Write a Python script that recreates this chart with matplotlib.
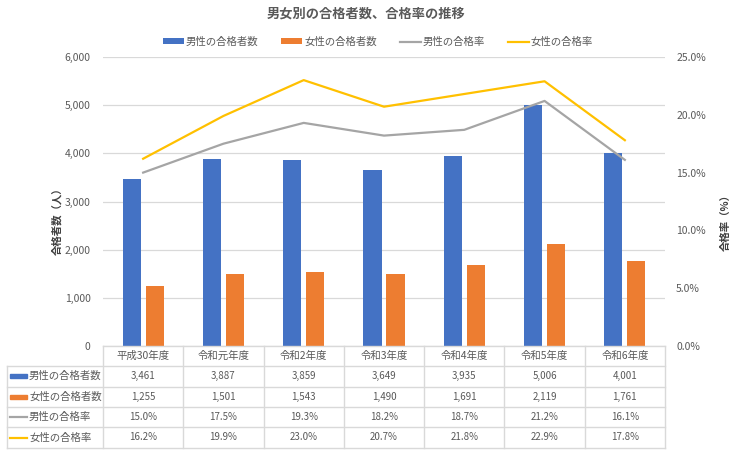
import numpy as np
import matplotlib
matplotlib.use("Agg")
import matplotlib.pyplot as plt
import matplotlib.transforms as mtransforms
from matplotlib.ticker import FuncFormatter, MultipleLocator

plt.rcParams['font.family'] = ['Noto Sans CJK JP', 'DejaVu Sans']

# data
years = ['平成30年度', '令和元年度', '令和2年度', '令和3年度', '令和4年度', '令和5年度', '令和6年度']
male_pass = [3461, 3887, 3859, 3649, 3935, 5006, 4001]
female_pass = [1255, 1501, 1543, 1490, 1691, 2119, 1761]
male_rate = [15.0, 17.5, 19.3, 18.2, 18.7, 21.2, 16.1]
female_rate = [16.2, 19.9, 23.0, 20.7, 21.8, 22.9, 17.8]

series_names = ['男性の合格者数', '女性の合格者数', '男性の合格率', '女性の合格率']
c_blue = '#4472C4'
c_orange = '#ED7D31'
c_gray = '#A5A5A5'
c_yellow = '#FFC000'
txt = '#595959'
grid_c = '#D9D9D9'

W, H = 733, 459
fig = plt.figure(figsize=(W / 100, H / 100), dpi=100)
# plot area in pixels
L, R, T, B = 103, 665, 57, 346
ax = fig.add_axes([L / W, 1 - B / H, (R - L) / W, (B - T) / H])

x = np.arange(len(years))
bw = 0.225
ax.bar(x - 0.143, male_pass, width=bw, color=c_blue, label=series_names[0], zorder=2)
ax.bar(x + 0.143, female_pass, width=bw, color=c_orange, label=series_names[1], zorder=2)
ax.set_xlim(-0.5, len(years) - 0.5)
ax.set_ylim(0, 6000)
ax.yaxis.set_major_locator(MultipleLocator(1000))
ax.yaxis.set_major_formatter(FuncFormatter(lambda v, p: f'{int(v):,}'))
ax.grid(axis='y', color=grid_c, linewidth=0.9, zorder=0)
ax.set_axisbelow(True)
ax.set_xticks([])
for s in ax.spines.values():
    s.set_visible(False)
ax.tick_params(axis='y', length=0, pad=9, labelsize=7.5, labelcolor=txt)

ax2 = ax.twinx()
ax2.plot(x, np.array(male_rate) / 100, color=c_gray, linewidth=1.6, label=series_names[2])
ax2.plot(x, np.array(female_rate) / 100, color=c_yellow, linewidth=1.6, label=series_names[3])
ax2.set_ylim(0, 0.25)
ax2.yaxis.set_major_locator(MultipleLocator(0.05))
ax2.yaxis.set_major_formatter(FuncFormatter(lambda v, p: f'{v * 100:.1f}%'))
for s in ax2.spines.values():
    s.set_visible(False)
ax2.tick_params(axis='y', length=0, pad=8, labelsize=7.5, labelcolor=txt)

# axis titles
fig.text(57 / W, 1 - 219 / H, '合格者数（人）', rotation=90, ha='center', va='center',
         fontsize=7.5, fontweight='bold', color='#404040')
fig.text(726 / W, 1 - 220 / H, '合格率（%）', rotation=90, ha='center', va='center',
         fontsize=7.5, fontweight='bold', color='#404040')

# title and legend
fig.text(0.5, 1 - 14 / H, '男女別の合格者数、合格率の推移', ha='center', va='center',
         fontsize=9.5, fontweight='bold', color=txt)
h1, l1 = ax.get_legend_handles_labels()
h2, l2 = ax2.get_legend_handles_labels()
fig.legend(h1 + h2, l1 + l2, loc='center', bbox_to_anchor=(378 / W, 1 - 42 / H), ncol=4,
           frameon=False, fontsize=7.5, labelcolor=txt, handlelength=2.0, handleheight=0.5,
           handletextpad=0.2, columnspacing=2.2)

# data table below the plot
def fx(px):
    return (px - L) / (R - L)

def fy(py):
    return (B - py) / (B - T)

row_y = [346, 366, 386.5, 407, 427, 448]
lab_left = 6.5
blend = mtransforms.blended_transform_factory(ax.transData, ax.transAxes)
lk = dict(color=grid_c, linewidth=1.0, transform=ax.transAxes, clip_on=False)

# horizontal lines
ax.plot([fx(L), fx(R)], [fy(row_y[0])] * 2, **lk)
for yy in row_y[1:]:
    ax.plot([fx(lab_left), fx(R)], [fy(yy)] * 2, **lk)
# vertical lines
ax.plot([fx(lab_left)] * 2, [fy(row_y[1]), fy(row_y[-1])], **lk)
for i in range(len(years) + 1):
    xx = L + i * (R - L) / len(years)
    ax.plot([fx(xx)] * 2, [fy(row_y[0]), fy(row_y[-1])], **lk)

rows = [
    [f'{v:,}' for v in male_pass],
    [f'{v:,}' for v in female_pass],
    [f'{v:.1f}%' for v in male_rate],
    [f'{v:.1f}%' for v in female_rate],
]
colors = [c_blue, c_orange, c_gray, c_yellow]

for i, yr in enumerate(years):
    ax.text(i, fy((row_y[0] + row_y[1]) / 2), yr, transform=blend, ha='center', va='center',
            fontsize=7.5, color=txt, clip_on=False)
for r, vals in enumerate(rows):
    yc = fy((row_y[r + 1] + row_y[r + 2]) / 2)
    for i, v in enumerate(vals):
        ax.text(i, yc, v, transform=blend, ha='center', va='center', fontsize=7,
                color=txt, clip_on=False)
    if r < 2:
        ax.add_patch(plt.Rectangle((fx(10), yc - 2.2 / (B - T)), fx(27) - fx(10), 4.4 / (B - T),
                                   transform=ax.transAxes, color=colors[r], clip_on=False))
    else:
        ax.plot([fx(10), fx(27)], [yc, yc], color=colors[r], linewidth=1.6,
                transform=ax.transAxes, clip_on=False)
    ax.text(fx(29), yc, series_names[r], transform=ax.transAxes, ha='left', va='center',
            fontsize=7.5, color=txt, clip_on=False)

fig.savefig('out.png', dpi=100)
